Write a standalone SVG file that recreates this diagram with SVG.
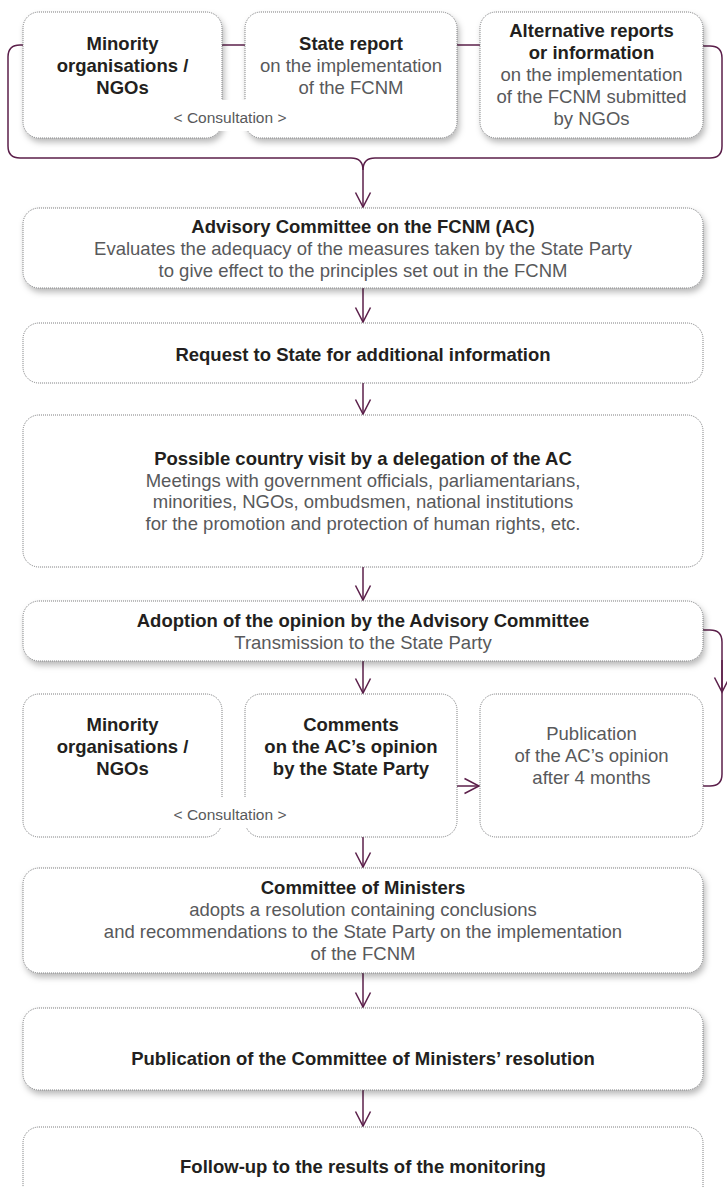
<svg xmlns="http://www.w3.org/2000/svg" width="727" height="1187" viewBox="0 0 727 1187">
<defs>
<style>
.box{fill:#fff;stroke:#6d6e70;stroke-width:0.9;stroke-dasharray:1 1}
.sh{filter:url(#shadow)}
.b{font-family:"Liberation Sans",Arial,sans-serif;font-weight:bold;font-size:18.5px;fill:#231f20;text-anchor:middle}
.r{font-family:"Liberation Sans",Arial,sans-serif;font-size:18.5px;fill:#58595b;text-anchor:middle}
.c{font-family:"Liberation Sans",Arial,sans-serif;font-size:15.5px;fill:#58595b;text-anchor:middle}
.ln{fill:none;stroke:#5b1f4a;stroke-width:1.5}
.mask{fill:#fff;stroke:none}
</style>
<filter id="shadow" x="-5%" y="-10%" width="112%" height="130%">
<feDropShadow dx="2" dy="4" stdDeviation="3" flood-color="#000" flood-opacity="0.28"/>
</filter>
<marker id="arr" markerUnits="userSpaceOnUse" markerWidth="18" markerHeight="18" viewBox="0 0 18 18" refX="16" refY="9" orient="auto">
<path d="M1.5,1.5 L16,9 L1.5,16.5" fill="none" stroke="#5b1f4a" stroke-width="1.5"/>
</marker>
</defs>
<rect width="727" height="1187" fill="#fff"/>

<g id="connectors">
<path class="ln" d="M23,45 H20 Q8,45 8,57 V146 Q8,158 20,158 H351 Q363,158 363,170"/>
<path class="ln" d="M703,46 H710 Q722,46 722,58 V146 Q722,158 710,158 H375 Q363,158 363,170"/>
<path class="ln" d="M222,45 H245"/>
<path class="ln" d="M457,45 H480"/>
<path class="ln" d="M363,170 V207" marker-end="url(#arr)"/>
<path class="ln" d="M363,288 V322" marker-end="url(#arr)"/>
<path class="ln" d="M363,383 V414" marker-end="url(#arr)"/>
<path class="ln" d="M363,567 V600" marker-end="url(#arr)"/>
<path class="ln" d="M363,661 V693" marker-end="url(#arr)"/>
<path class="ln" d="M703,630 H710 Q722,630 722,642 V774 Q722,786 710,786 H703"/>
<path class="ln" d="M722,660 V692" marker-end="url(#arr)"/>
<path class="ln" d="M457,786 H479" marker-end="url(#arr)"/>
<path class="ln" d="M363,837 V867" marker-end="url(#arr)"/>
<path class="ln" d="M363,973 V1007" marker-end="url(#arr)"/>
<path class="ln" d="M363,1090 V1126" marker-end="url(#arr)"/>
</g>

<g id="minority-top">
<rect class="box sh" x="23" y="12" width="199" height="126" rx="16"/>
<text class="b" x="122.5" y="50">Minority</text>
<text class="b" x="122.5" y="72">organisations /</text>
<text class="b" x="122.5" y="94">NGOs</text>
</g>
<g id="state-report">
<rect class="box sh" x="245" y="12" width="212" height="126" rx="16"/>
<text class="b" x="351" y="50">State report</text>
<text class="r" x="351" y="72">on the implementation</text>
<text class="r" x="351" y="94">of the FCNM</text>
</g>
<g id="alternative-reports">
<rect class="box sh" x="480" y="12" width="223" height="126" rx="16"/>
<text class="b" x="591.5" y="37">Alternative reports</text>
<text class="b" x="591.5" y="59">or information</text>
<text class="r" x="591.5" y="81">on the implementation</text>
<text class="r" x="591.5" y="103">of the FCNM submitted</text>
<text class="r" x="591.5" y="125">by NGOs</text>
</g>
<g id="consultation-top">
<rect class="mask" x="167" y="100" width="126" height="31"/>
<text class="c" x="230" y="123">&lt; Consultation &gt;</text>
</g>

<g id="advisory-committee">
<rect class="box sh" x="23" y="208" width="680" height="80" rx="16"/>
<text class="b" x="363" y="233">Advisory Committee on the FCNM (AC)</text>
<text class="r" x="363" y="255">Evaluates the adequacy of the measures taken by the State Party</text>
<text class="r" x="363" y="277">to give effect to the principles set out in the FCNM</text>
</g>
<g id="request">
<rect class="box" x="23" y="323" width="680" height="60" rx="16"/>
<text class="b" x="363" y="361">Request to State for additional information</text>
</g>
<g id="country-visit">
<rect class="box" x="23" y="415" width="680" height="152" rx="16"/>
<text class="b" x="363" y="465">Possible country visit by a delegation of the AC</text>
<text class="r" x="363" y="487">Meetings with government officials, parliamentarians,</text>
<text class="r" x="363" y="508">minorities, NGOs, ombudsmen, national institutions</text>
<text class="r" x="363" y="530">for the promotion and protection of human rights, etc.</text>
</g>
<g id="adoption">
<rect class="box sh" x="23" y="601" width="680" height="60" rx="16"/>
<text class="b" x="363" y="627">Adoption of the opinion by the Advisory Committee</text>
<text class="r" x="363" y="649">Transmission to the State Party</text>
</g>

<g id="minority-mid">
<rect class="box" x="23" y="694" width="199" height="143" rx="16"/>
<text class="b" x="122.5" y="731">Minority</text>
<text class="b" x="122.5" y="753">organisations /</text>
<text class="b" x="122.5" y="775">NGOs</text>
</g>
<g id="comments">
<rect class="box" x="245" y="694" width="212" height="143" rx="16"/>
<text class="b" x="351" y="731">Comments</text>
<text class="b" x="351" y="753">on the AC’s opinion</text>
<text class="b" x="351" y="775">by the State Party</text>
</g>
<g id="publication-opinion">
<rect class="box" x="480" y="694" width="223" height="143" rx="16"/>
<text class="r" x="591.5" y="740">Publication</text>
<text class="r" x="591.5" y="762">of the AC’s opinion</text>
<text class="r" x="591.5" y="784">after 4 months</text>
</g>
<g id="consultation-mid">
<rect class="mask" x="167" y="797" width="126" height="31"/>
<text class="c" x="230" y="820">&lt; Consultation &gt;</text>
</g>

<g id="committee-of-ministers">
<rect class="box sh" x="23" y="868" width="680" height="105" rx="16"/>
<text class="b" x="363" y="894">Committee of Ministers</text>
<text class="r" x="363" y="916">adopts a resolution containing conclusions</text>
<text class="r" x="363" y="938">and recommendations to the State Party on the implementation</text>
<text class="r" x="363" y="960">of the FCNM</text>
</g>
<g id="publication-resolution">
<rect class="box sh" x="23" y="1008" width="680" height="82" rx="16"/>
<text class="b" x="363" y="1065">Publication of the Committee of Ministers’ resolution</text>
</g>
<g id="follow-up">
<rect class="box" x="23" y="1127" width="680" height="80" rx="16"/>
<text class="b" x="363" y="1173">Follow-up to the results of the monitoring</text>
</g>
</svg>
